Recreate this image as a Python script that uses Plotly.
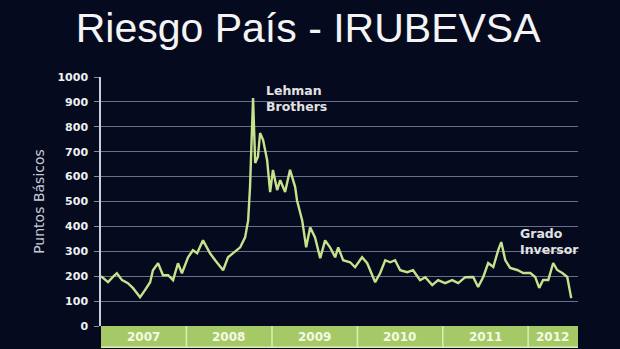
import plotly.graph_objects as go

# ---- data ----
dates = [
    "2007-01-01", "2007-01-31", "2007-02-21", "2007-03-10", "2007-04-01", "2007-04-26",
    "2007-05-18", "2007-06-17", "2007-07-08", "2007-07-30", "2007-08-11", "2007-09-02",
    "2007-09-23", "2007-10-15", "2007-11-05", "2007-11-26", "2007-12-13", "2008-01-08",
    "2008-01-29", "2008-02-16", "2008-03-12", "2008-04-11", "2008-05-03", "2008-06-06",
    "2008-06-27", "2008-07-19", "2008-08-18", "2008-09-08", "2008-09-21", "2008-09-29",
    "2008-10-12", "2008-10-21", "2008-11-02", "2008-11-11", "2008-11-24", "2008-12-11",
    "2008-12-24", "2009-01-05", "2009-01-23", "2009-02-05", "2009-02-26", "2009-03-19",
    "2009-04-10", "2009-04-18", "2009-05-10", "2009-05-27", "2009-06-13", "2009-07-04",
    "2009-07-26", "2009-08-16", "2009-09-06", "2009-09-28", "2009-10-11", "2009-11-01",
    "2009-12-01", "2009-12-22", "2010-01-21", "2010-02-12", "2010-03-18", "2010-04-08",
    "2010-04-30", "2010-05-21", "2010-06-11", "2010-07-03", "2010-08-02", "2010-08-27",
    "2010-09-26", "2010-10-18", "2010-11-17", "2010-12-12", "2011-01-11", "2011-02-10",
    "2011-03-08", "2011-04-07", "2011-05-11", "2011-06-01", "2011-06-23", "2011-07-14",
    "2011-08-05", "2011-08-26", "2011-09-08", "2011-09-25", "2011-10-16", "2011-11-15",
    "2011-12-11", "2012-01-10", "2012-01-31", "2012-02-17", "2012-03-05", "2012-03-27",
    "2012-04-17", "2012-05-04", "2012-05-26", "2012-06-16", "2012-06-29", "2012-07-03",
]
puntos = [
    200, 176, 197, 212, 184, 172,
    152, 116, 144, 176, 224, 252,
    204, 204, 184, 252, 212, 276,
    304, 292, 344, 292, 264, 224,
    276, 292, 316, 356, 424, 558,
    916, 655, 680, 775, 747, 667,
    538, 627, 546, 586, 538, 627,
    558, 504, 424, 316, 396, 356,
    272, 344, 316, 276, 316, 264,
    256, 236, 276, 252, 176, 212,
    264, 256, 264, 224, 216, 224,
    184, 196, 164, 184, 172, 184,
    172, 196, 197, 157, 197, 253,
    237, 305, 337, 265, 233, 225,
    213, 213, 197, 153, 185, 185,
    253, 225, 213, 197, 132, 112,
]
years = ["2007", "2008", "2009", "2010", "2011", "2012"]
range_end = "2012-08-01"
y_ticks = [0, 100, 200, 300, 400, 500, 600, 700, 800, 900, 1000]

BG = "#050a1f"
LINE = "#c6e38c"
BAND = "#a6c968"

fig = go.Figure()
fig.add_trace(go.Scatter(
    x=dates, y=puntos, mode="lines",
    line=dict(color=LINE, width=2.4),
    hoverinfo="skip", showlegend=False,
))

# year band below the axis
band_h = -0.085
shapes = []
annotations = []
starts = [f"{y}-01-01" for y in years]
ends = starts[1:] + [range_end]
for i, (y, s, e) in enumerate(zip(years, starts, ends)):
    shapes.append(dict(type="rect", xref="x", yref="paper", x0=s, x1=e,
                       y0=band_h, y1=0, fillcolor=BAND, line=dict(width=0), layer="below"))
    if i > 0:
        shapes.append(dict(type="line", xref="x", yref="paper", x0=s, x1=s,
                           y0=band_h, y1=0, line=dict(color="#dcefb8", width=1.5)))
    mid = (y + "-07-01") if i < len(years) - 1 else "2012-04-16"
    annotations.append(dict(x=mid, y=band_h / 2, xref="x", yref="paper",
                            text=f"<b>{y}</b>", showarrow=False,
                            font=dict(family="DejaVu Sans", size=12, color="#f4fae6"),
                            xanchor="center", yanchor="middle"))
shapes.append(dict(type="line", xref="x", yref="paper", x0=starts[0], x1=range_end,
                   y0=band_h, y1=band_h, line=dict(color="#dcefb8", width=1.5)))

annotations.append(dict(x="2008-11-26", y=912, xref="x", yref="y",
                        text="<b>Lehman</b><br><b>Brothers</b>", showarrow=False, align="left",
                        xanchor="left", yanchor="middle",
                        font=dict(family="DejaVu Sans", size=12.5, color="#e2e2e2")))
annotations.append(dict(x="2011-11-17", y=339, xref="x", yref="y",
                        text="<b>Grado</b><br><b>Inversor</b>", showarrow=False, align="left",
                        xanchor="left", yanchor="middle",
                        font=dict(family="DejaVu Sans", size=12.5, color="#e2e2e2")))

fig.update_layout(
    width=620, height=349,
    margin=dict(l=101, r=42, t=77, b=23),
    paper_bgcolor=BG, plot_bgcolor=BG,
    title=dict(text="Riesgo País - IRUBEVSA", x=0.497, xanchor="center",
               y=1 - 28 / 349, yanchor="middle", yref="container",
               font=dict(family="Liberation Sans", size=41, color="#f4f4f4")),
    shapes=shapes, annotations=annotations,
    xaxis=dict(type="date", range=["2007-01-01", range_end], showgrid=False,
               showticklabels=False, zeroline=False, showline=False, ticks=""),
    yaxis=dict(range=[0, 1000], tickvals=y_ticks, showgrid=True,
               gridcolor="rgba(185,195,220,0.55)", gridwidth=1, zeroline=False,
               showline=True, linecolor="#c9d0dc", linewidth=1.5,
               ticks="outside", ticklen=5, tickcolor="rgba(185,195,220,0.7)",
               ticklabelstandoff=4,
               tickfont=dict(family="DejaVu Sans", size=11, color="#f0f0f0", weight="bold"),
               title=dict(text="Puntos Básicos", standoff=10,
                          font=dict(family="DejaVu Sans", size=14, color="#c4ccd6"))),
)

fig.write_html("out.html")
